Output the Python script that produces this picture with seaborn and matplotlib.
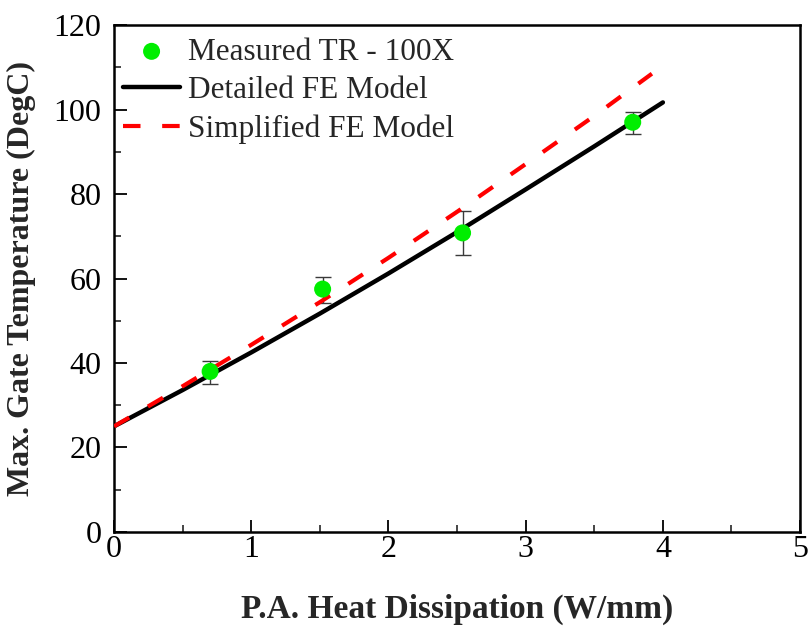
import numpy as np
import pandas as pd
import seaborn as sns
import matplotlib.pyplot as plt
from matplotlib.ticker import MultipleLocator

# measured points (TR - 100X) with error bar limits
meas_x = [0.70, 1.52, 2.54, 3.78]
meas_y = [38.0, 57.5, 70.8, 97.0]
meas_lo = [35.0, 54.3, 65.6, 94.3]
meas_hi = [40.4, 60.3, 75.9, 99.4]

# detailed FE model curve
det_x = [0, 0.5, 1, 1.5, 2, 2.5, 3, 3.5, 4]
det_y = [25, 33.6, 42.5, 51.7, 61.2, 71.0, 81.1, 91.3, 101.7]

# simplified FE model curve
simp_x = [0, 0.5, 1, 1.5, 2, 2.5, 3, 3.5, 3.92]
simp_y = [25, 34.5, 44.3, 54.4, 64.9, 75.8, 87.1, 98.5, 108.5]

sns.set_theme(style="ticks")
plt.rcParams['font.family'] = ['Liberation Serif', 'DejaVu Serif']

fig = plt.figure(figsize=(8.09, 6.28), dpi=100)
ax = fig.add_axes([0.141, 0.153, 0.848, 0.807])

meas = pd.DataFrame({'x': meas_x, 'y': meas_y})
det = pd.DataFrame({'x': det_x, 'y': det_y})
simp = pd.DataFrame({'x': simp_x, 'y': simp_y})

yerr = [np.array(meas_y) - np.array(meas_lo), np.array(meas_hi) - np.array(meas_y)]
ax.errorbar(meas_x, meas_y, yerr=yerr, fmt='none', ecolor='#3a3a3a',
            elinewidth=1.0, capsize=5.5, capthick=1.0, zorder=2)

sns.lineplot(data=det, x='x', y='y', ax=ax, color='black', lw=3.2,
             label='Detailed FE Model', zorder=3)
sns.lineplot(data=simp, x='x', y='y', ax=ax, color='#ff0000', lw=3.0,
             label='Simplified FE Model', zorder=4)
ax.lines[-1].set_dashes([4.2, 5.2])
sns.scatterplot(data=meas, x='x', y='y', ax=ax, color='#00ee00', s=150,
                edgecolor='none', label='Measured TR - 100X', zorder=5)

ax.set_xlim(0, 5)
ax.set_ylim(0, 120)
ax.xaxis.set_major_locator(MultipleLocator(1))
ax.xaxis.set_minor_locator(MultipleLocator(0.5))
ax.yaxis.set_major_locator(MultipleLocator(20))
ax.yaxis.set_minor_locator(MultipleLocator(10))
ax.tick_params(which='major', direction='in', length=9, width=1.3,
               labelsize=23, colors='black')
ax.tick_params(axis='y', which='major', pad=9)
ax.tick_params(axis='x', which='major', pad=2)
ax.tick_params(which='minor', direction='in', length=5, width=1.2)
for s in ax.spines.values():
    s.set_linewidth(1.8)
    s.set_color('black')

ax.set_xlabel('P.A. Heat Dissipation (W/mm)', fontsize=24, fontweight='bold',
              labelpad=22)
ax.set_ylabel('Max. Gate Temperature (DegC)', fontsize=23, fontweight='bold',
              labelpad=13)

h, l = ax.get_legend_handles_labels()
order = [l.index('Measured TR - 100X'), l.index('Detailed FE Model'),
         l.index('Simplified FE Model')]
ax.legend([h[i] for i in order], [l[i] for i in order], loc='upper left',
          bbox_to_anchor=(0.0, 0.994), frameon=False, fontsize=22.5,
          handlelength=1.8, handletextpad=0.25, labelspacing=0.3,
          borderaxespad=0.1, borderpad=0.2)

fig.savefig('out.png', dpi=100)
